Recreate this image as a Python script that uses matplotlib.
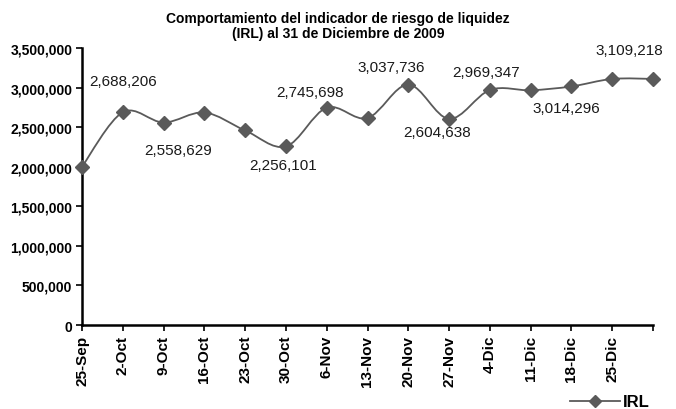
import matplotlib
matplotlib.use("Agg")
import matplotlib.pyplot as plt
from matplotlib.path import Path
from matplotlib.patches import PathPatch
from matplotlib.lines import Line2D
import numpy as np

categories = ["25-Sep", "2-Oct", "9-Oct", "16-Oct", "23-Oct", "30-Oct", "6-Nov",
              "13-Nov", "20-Nov", "27-Nov", "4-Dic", "11-Dic", "18-Dic", "25-Dic", ""]
values = [2000000, 2688206, 2558629, 2685000, 2458000, 2256101, 2745698,
          2615000, 3037736, 2604638, 2969347, 2966000, 3014296, 3109218, 3109218]
labelled = {1: "2,688,206", 2: "2,558,629", 5: "2,256,101", 6: "2,745,698",
            8: "3,037,736", 9: "2,604,638", 10: "2,969,347", 12: "3,014,296",
            13: "3,109,218"}
label_offsets = {1: (0, 31), 2: (15, -27), 5: (-3, -19), 6: (-17, 16),
                 8: (-17, 18), 9: (-12, -13), 10: (-4, 18), 12: (-5, -22),
                 13: (17, 29)}
yticks = [0, 500000, 1000000, 1500000, 2000000, 2500000, 3000000, 3500000]

plt.rcParams['font.family'] = ['Liberation Sans', 'DejaVu Sans']

fig = plt.figure(figsize=(6.76, 4.10), dpi=100)
ax = fig.add_axes([82/676, 1-326/410, (653-82)/676, (326-49)/410])

x = np.arange(len(values))
y = np.array(values, dtype=float)
col = '#5a5a5a'

# smoothed line (Catmull-Rom as Bezier segments)
verts = [(x[0], y[0])]
codes = [Path.MOVETO]
n = len(x)
for i in range(n - 1):
    p0 = np.array([x[max(i-1, 0)], y[max(i-1, 0)]])
    p1 = np.array([x[i], y[i]])
    p2 = np.array([x[i+1], y[i+1]])
    p3 = np.array([x[min(i+2, n-1)], y[min(i+2, n-1)]])
    c1 = p1 + (p2 - p0) / 6.0
    c2 = p2 - (p3 - p1) / 6.0
    verts += [tuple(c1), tuple(c2), tuple(p2)]
    codes += [Path.CURVE4] * 3
ax.add_patch(PathPatch(Path(verts, codes), facecolor='none', edgecolor=col,
                       lw=1.3, zorder=2, clip_on=False))
ax.plot(x, y, linestyle='none', marker='D', markersize=7, color=col,
        markeredgecolor=col, zorder=3, clip_on=False)

for i, txt in labelled.items():
    dx, dy = label_offsets[i]
    ax.annotate(txt, (x[i], y[i]), xytext=(dx, dy), textcoords='offset pixels',
                ha='center', va='center', fontsize=11, color='#1a1a1a')

ax.set_xlim(0, 14)
ax.set_ylim(0, 3500000)
ax.set_xticks(x)
ax.set_xticklabels(categories, rotation=90, fontsize=11, fontweight='bold')
ax.set_yticks(yticks)
ax.set_yticklabels([f"{v:,}" for v in yticks], fontsize=10, fontweight='bold')
ax.tick_params(axis='both', direction='out', length=4, width=1.2, color='black', pad=3)
for s in ['top', 'right']:
    ax.spines[s].set_visible(False)
ax.spines['left'].set_linewidth(1.8)
ax.spines['bottom'].set_linewidth(1.8)

fig.text(0.5, 1-19/410, "Comportamiento del indicador de riesgo de liquidez",
         ha='center', va='center', fontsize=10, fontweight='bold')
fig.text(0.5, 1-34/410, "(IRL) al 31 de Diciembre de 2009",
         ha='center', va='center', fontsize=10, fontweight='bold')

handle = Line2D([], [], color=col, marker='D', markersize=6, lw=1.3)
fig.legend([handle], ["IRL"], loc='center', bbox_to_anchor=(610/676, 1-403/410),
           frameon=False, prop={'size': 12, 'weight': 'bold'}, handlelength=3.0,
           handletextpad=0.2)

fig.savefig("out.png", dpi=100)
